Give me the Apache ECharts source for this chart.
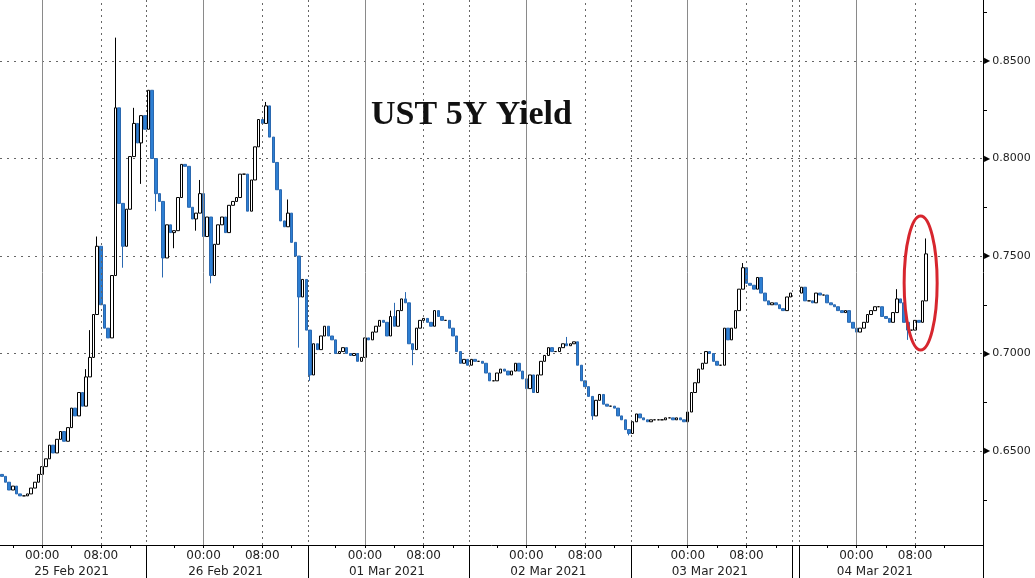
<!DOCTYPE html>
<html>
<head>
<meta charset="utf-8">
<script src="https://cdn.jsdelivr.net/npm/echarts@6/dist/echarts.min.js"></script>
<style>html,body{margin:0;padding:0;background:#fff}#c{width:1035px;height:578px}</style>
</head>
<body>
<div id="c"></div>
<script>
// ---------- data ----------
const titleText = 'UST 5Y Yield';
const firstOpen = 0.638;
const closes = [
  0.637,0.634,0.630,0.632,0.628,0.627,0.627,0.628,0.631,0.634,
  0.638,0.642,0.646,0.653,0.649,0.656,0.660,0.655,0.662,0.672,
  0.668,0.680,0.673,0.688,0.698,0.720,0.755,0.725,0.713,0.708,
  0.740,0.826,0.777,0.755,0.774,0.801,0.818,0.808,0.822,0.815,
  0.835,0.800,0.782,0.778,0.749,0.766,0.762,0.763,0.780,0.797,
  0.796,0.775,0.769,0.772,0.782,0.760,0.770,0.740,0.756,0.766,
  0.770,0.762,0.776,0.778,0.780,0.792,0.792,0.773,0.789,0.806,
  0.820,0.818,0.827,0.811,0.798,0.784,0.768,0.765,0.772,0.757,
  0.750,0.729,0.738,0.712,0.689,0.705,0.702,0.709,0.714,0.709,
  0.707,0.700,0.701,0.703,0.700,0.699,0.700,0.696,0.698,0.708,
  0.707,0.711,0.714,0.717,0.716,0.709,0.719,0.714,0.722,0.728,
  0.726,0.705,0.702,0.713,0.717,0.718,0.716,0.714,0.722,0.719,
  0.717,0.717,0.713,0.709,0.701,0.695,0.697,0.694,0.697,0.696,
  0.696,0.695,0.690,0.686,0.686,0.690,0.692,0.691,0.689,0.691,
  0.695,0.691,0.687,0.682,0.689,0.680,0.689,0.696,0.699,0.703,
  0.701,0.701,0.703,0.705,0.704,0.705,0.706,0.694,0.686,0.683,
  0.678,0.668,0.676,0.679,0.674,0.673,0.673,0.672,0.668,0.666,
  0.661,0.659,0.665,0.669,0.667,0.666,0.665,0.666,0.666,0.666,
  0.666,0.667,0.667,0.666,0.667,0.666,0.665,0.670,0.680,0.685,
  0.692,0.695,0.701,0.700,0.696,0.694,0.694,0.713,0.707,0.713,
  0.722,0.733,0.744,0.736,0.735,0.733,0.739,0.731,0.727,0.725,
  0.726,0.725,0.723,0.722,0.729,0.731,null,null,0.734,0.727,
  0.727,0.726,0.731,0.730,0.730,0.726,0.725,0.724,0.722,0.721,
  0.722,0.716,0.713,0.711,0.713,0.716,0.720,0.722,0.724,0.724,
  0.719,0.718,0.716,0.721,0.728,0.726,0.716,0.712,0.712,0.717,
  0.716,0.727,0.7511
];
// bars whose wick reaches beyond the body (bar number -> extreme)
const wickHigh = {23:0.692,24:0.712,26:0.760,31:0.862,36:0.826,54:0.789,72:0.829,78:0.779,106:0.722,107:0.726,110:0.7315,154:0.7085,202:0.7464,244:0.733,252:0.759};
const wickLow  = {33:0.744,38:0.787,42:0.773,44:0.739,47:0.754,53:0.763,57:0.736,81:0.703,84:0.686,112:0.694,161:0.666,171:0.658,247:0.707};
const lastPrice = 0.7511;

// session calendar (30-minute bars)
const sessionDates = ['25 Feb 2021','26 Feb 2021','01 Mar 2021','02 Mar 2021','03 Mar 2021','04 Mar 2021'];
const eveningDates = ['24 Feb 2021','25 Feb 2021','28 Feb 2021','01 Mar 2021','02 Mar 2021','03 Mar 2021'];
const extendedSession = '03 Mar 2021';
// tick labels
const timeLabels = ['00:00','08:00'];
const minorTickTimes = ['00:00','04:00','08:00','12:00','20:00'];
const dateLabelAt = ['25 Feb 2021 04:00','26 Feb 2021 03:00','01 Mar 2021 03:00','02 Mar 2021 03:00','03 Mar 2021 03:00','04 Mar 2021 02:30'];
const sessionBreaks = ['25 Feb 2021 16:30','28 Feb 2021 16:30','01 Mar 2021 16:30','02 Mar 2021 16:30','03 Mar 2021 14:30','03 Mar 2021 16:30'];
const yMin = 0.6018, yMax = 0.8813;
// highlighted region (bars / yield)
const highlight = {fromBar: 246, toBar: 255, top: 0.7705, bottom: 0.7018};

// ---------- build ----------
const pad = n => (n < 10 ? '0' : '') + n;
const categories = [];
function pushRange(date, fromMin, toMin) {
  for (let m = fromMin; m <= toMin; m += 30) categories.push(date + ' ' + pad(Math.floor(m / 60)) + ':' + pad(m % 60));
}
pushRange(eveningDates[0], 18 * 60 + 30, 23 * 60 + 30);
sessionDates.forEach((d, k) => {
  if (k < sessionDates.length - 1) {
    pushRange(d, 0, 14 * 60);
    if (d === extendedSession) pushRange(d, 14 * 60 + 30, 15 * 60);
    pushRange(eveningDates[k + 1], 16 * 60 + 30, 23 * 60 + 30);
  } else {
    pushRange(d, 0, 17 * 60);
  }
});

let prev = firstOpen;
const candles = closes.map((c, i) => {
  if (c == null) return ['-', '-', '-', '-'];
  const o = prev; prev = c;
  const hi = wickHigh[i] != null ? wickHigh[i] : Math.max(o, c);
  const lo = wickLow[i] != null ? wickLow[i] : Math.min(o, c);
  return [o, c, lo, hi];
});

const timeOf = v => v.slice(-5);
const dateOf = v => v.slice(0, 11);
const isTimeLabel = (i, v) => sessionDates.includes(dateOf(v)) && timeLabels.includes(timeOf(v));
const isMinorTick = (i, v) => minorTickTimes.includes(timeOf(v));
const isBreak = (i, v) => sessionBreaks.includes(v);
const isDateLabel = (i, v) => dateLabelAt.includes(v);

const FONT = 'DejaVu Sans';
const vLines = [];
categories.forEach(v => {
  if (!isTimeLabel(0, v)) return;
  const solid = timeOf(v) === '00:00';
  vLines.push({
    xAxis: v,
    lineStyle: solid ? {color: '#8a8a8a', width: 1, type: 'solid'} : {color: '#666', width: 1, type: [2, 4]}
  });
});

const chart = echarts.init(document.getElementById('c'), null, {renderer: 'canvas'});
chart.setOption({
  animation: false,
  backgroundColor: '#fff',
  title: {
    text: titleText, left: 366, top: 93,
    textStyle: {fontFamily: 'Liberation Serif', fontWeight: 'bold', fontSize: 34, color: '#111'}
  },
  grid: {left: 0, right: 52, top: 0, bottom: 33, containLabel: false, outerBoundsMode: 'none'},
  xAxis: [{
    type: 'category', data: categories, boundaryGap: true,
    axisLine: {show: true, lineStyle: {color: '#000', width: 1}},
    axisTick: {show: true, alignWithLabel: true, interval: isMinorTick, length: 3, lineStyle: {color: '#000'}},
    axisLabel: {interval: isTimeLabel, formatter: v => timeOf(v), margin: 5, fontFamily: FONT, fontSize: 12, color: '#222'},
    splitLine: {show: false}
  }, {
    type: 'category', data: categories, boundaryGap: true, position: 'bottom',
    axisLine: {show: false},
    axisTick: {show: true, interval: isBreak, length: 33, lineStyle: {color: '#000'}},
    axisLabel: {interval: isDateLabel, formatter: v => dateOf(v), margin: 21, fontFamily: FONT, fontSize: 12, color: '#222'},
    splitLine: {show: true, interval: isBreak, lineStyle: {color: '#666', width: 1, type: [2, 3]}}
  }],
  yAxis: {
    type: 'value', position: 'right', min: yMin, max: yMax, splitNumber: 5, scale: true,
    axisLine: {show: true, lineStyle: {color: '#000', width: 1}},
    axisTick: {show: false},
    minorTick: {show: true, splitNumber: 2, length: 4, lineStyle: {color: '#000'}},
    axisLabel: {
      showMinLabel: false, showMaxLabel: false, margin: 1,
      formatter: v => '{t|\u25B6}{v|' + v.toFixed(4) + '}',
      rich: {
        t: {fontFamily: FONT, fontSize: 8, color: '#000', padding: [0, 2, 0, 0]},
        v: {fontFamily: FONT, fontSize: 11, color: '#222'}
      }
    },
    splitLine: {show: true, showMinLine: false, showMaxLine: false, lineStyle: {color: '#666', width: 1, type: [2, 5]}}
  },
  series: [{
    type: 'candlestick',
    data: candles,
    barWidth: 3,
    itemStyle: {color: '#ffffff', color0: '#2d7fd3', borderColor: '#000000', borderColor0: '#2a68b0', borderWidth: 1},
    markLine: {
      silent: true, symbol: ['none', 'none'], animation: false,
      label: {show: false},
      data: vLines.concat([{
        yAxis: lastPrice,
        lineStyle: {opacity: 0},
        label: {
          show: true, position: 'end', distance: 1,
          formatter: () => '{a|\u25C0}{b|' + lastPrice.toFixed(4) + '}',
          rich: {
            a: {fontFamily: FONT, fontSize: 9, color: '#000', padding: [0, 0, 0, 0]},
            b: {fontFamily: FONT, fontSize: 11, color: '#fff', backgroundColor: '#000', padding: [3, 4, 2, 3]}
          }
        }
      }])
    }
  }]
});

// red ellipse around the final jump, placed in data coordinates
const p1 = chart.convertToPixel({xAxisIndex: 0, yAxisIndex: 0}, [highlight.fromBar, highlight.top]);
const p2 = chart.convertToPixel({xAxisIndex: 0, yAxisIndex: 0}, [highlight.toBar, highlight.bottom]);
chart.setOption({
  graphic: [{
    type: 'ellipse', silent: true, z: 100,
    shape: {cx: (p1[0] + p2[0]) / 2, cy: (p1[1] + p2[1]) / 2, rx: Math.abs(p2[0] - p1[0]) / 2, ry: Math.abs(p2[1] - p1[1]) / 2},
    style: {fill: 'none', stroke: '#d7262e', lineWidth: 3}
  }]
});
</script>
</body>
</html>
